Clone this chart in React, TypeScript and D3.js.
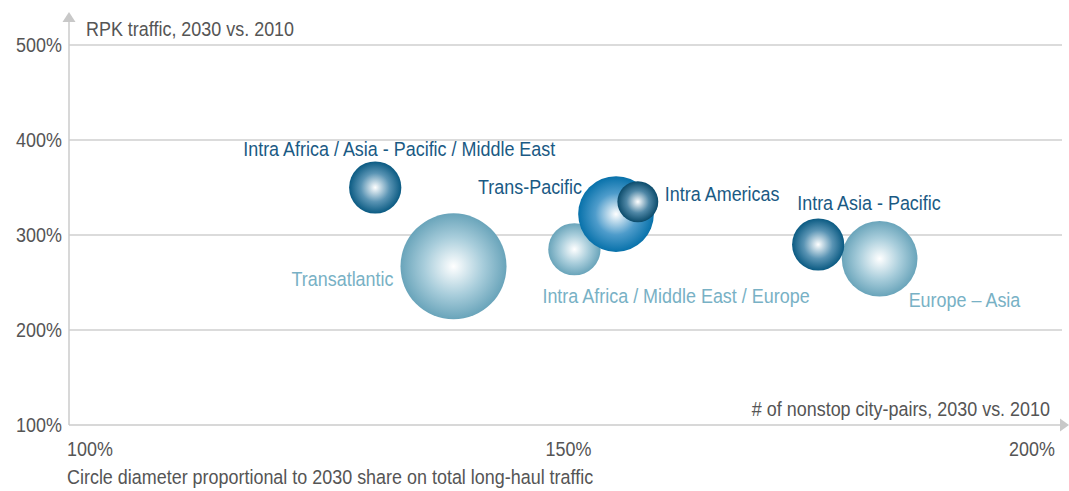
import * as d3 from "d3";

const W = 1069;
const H = 491;
const MARGIN = { top: 45, right: 0, bottom: 66, left: 69 };

// bubble data: x = nonstop city-pairs growth, y = RPK growth, share = 2030 share of long-haul traffic
const regions = [
  "Transatlantic",
  "Intra Africa / Middle East / Europe",
  "Europe – Asia",
  "Intra Africa / Asia - Pacific / Middle East",
  "Intra Asia - Pacific",
  "Trans-Pacific",
  "Intra Americas",
];
const cityPairs = [138.8, 151.0, 181.8, 130.9, 175.6, 155.2, 157.4];
const rpkTraffic = [267, 285, 275, 350, 290, 322, 335];
const share = [14, 6.9, 10, 6.9, 6.9, 10, 5.4];
const tone = ["light", "light", "light", "dark", "dark", "bright", "deep"];

const yTicks = [100, 200, 300, 400, 500];
const xTicks = [100, 150, 200];

// label placement relative to bubble centre
const labelPos = [
  { dx: -60, dy: 20, anchor: "end" },
  { dx: -32, dy: 54, anchor: "start" },
  { dx: 29, dy: 48, anchor: "start" },
  { dx: 24, dy: -32, anchor: "middle" },
  { dx: -21, dy: -35, anchor: "start" },
  { dx: -34, dy: -20, anchor: "end" },
  { dx: 27, dy: -1, anchor: "start" },
];

const gradients: Record<string, [string, string, string]> = {
  light: ["#ffffff", "#a8cddb", "#69a4ba"],
  dark: ["#ffffff", "#5a94b4", "#0a5a82"],
  bright: ["#ffffff", "#4e9ccb", "#0771aa"],
  deep: ["#ffffff", "#4f87a6", "#0b4b6b"],
};
const labelColor: Record<string, string> = {
  light: "#78b1c5",
  dark: "#1a5a84",
  bright: "#1a5a84",
  deep: "#1a5a84",
};

const FONT = "'Liberation Sans', Arial, sans-serif";
const SX = 0.93;

// condensed text: regular sans squeezed horizontally
const CText = ({ x, y, anchor = "start", size = 19.3, fill = "#555", children }: any) => (
  <text
    transform={`translate(${x},${y}) scale(${SX},1)`}
    textAnchor={anchor}
    fontSize={size}
    fill={fill}
    fontFamily={FONT}
  >
    {children}
  </text>
);

export default function App() {
  const boundsW = W - MARGIN.left - MARGIN.right;
  const xScale = d3.scaleLinear().domain([100, 200]).range([0, boundsW - 9]);
  const yScale = d3.scaleLinear().domain([100, 500]).range([380, 0]);
  const rScale = d3.scaleLinear().domain([0, 14]).range([0, 53]);

  const bubbles = regions.map((name, i) => ({
    name,
    x: xScale(cityPairs[i]),
    y: yScale(rpkTraffic[i]),
    r: rScale(share[i]),
    tone: tone[i],
    label: labelPos[i],
  }));

  const y0 = yScale(100);
  const xEnd = boundsW - 9;

  return (
    <svg width={W} height={H} style={{ position: "absolute", left: 0, top: 0, background: "#fff" }}>
      <defs>
        {Object.entries(gradients).map(([k, c]) => (
          <radialGradient key={k} id={`grad-${k}`} cx="50%" cy="50%" r="50%">
            <stop offset="0%" stopColor={c[0]} />
            <stop offset="55%" stopColor={c[1]} />
            <stop offset="100%" stopColor={c[2]} />
          </radialGradient>
        ))}
      </defs>
      <g transform={`translate(${MARGIN.left},${MARGIN.top})`}>
        {yTicks.map((t) => (
          <g key={t}>
            {t > 100 && (
              <line x1={0} x2={xEnd + 2} y1={yScale(t)} y2={yScale(t)} stroke="#cfcfcf" strokeWidth={1.5} />
            )}
            <CText x={-7} y={yScale(t) + 7} anchor="end">
              {t}%
            </CText>
          </g>
        ))}
        {/* axes with arrows */}
        <line x1={0} x2={0} y1={y0} y2={-23} stroke="#cbcbcb" strokeWidth={1.5} />
        <path d={`M-6.5,-23 L0,-33 L6.5,-23 Z`} fill="#c8c8c8" />
        <line x1={0} x2={xEnd} y1={y0} y2={y0} stroke="#cbcbcb" strokeWidth={1.5} />
        <path d={`M${xEnd},${y0 - 6.5} L${xEnd + 9},${y0} L${xEnd},${y0 + 6.5} Z`} fill="#c8c8c8" />

        {xTicks.map((t, i) => (
          <CText
            key={t}
            x={xScale(t) + (i === xTicks.length - 1 ? -5 : i === 0 ? -2 : 4)}
            y={y0 + 31}
            anchor={i === 0 ? "start" : i === xTicks.length - 1 ? "end" : "middle"}
          >
            {t}%
          </CText>
        ))}

        <CText x={17} y={-9}>
          RPK traffic, 2030 vs. 2010
        </CText>
        <CText x={xEnd - 10} y={y0 - 9} anchor="end">
          # of nonstop city-pairs, 2030 vs. 2010
        </CText>

        {bubbles.map((b) => (
          <circle key={b.name} cx={b.x} cy={b.y} r={b.r} fill={`url(#grad-${b.tone})`} />
        ))}
        {bubbles.map((b) => (
          <CText
            key={b.name}
            x={b.x + b.label.dx}
            y={b.y + b.label.dy}
            anchor={b.label.anchor}
            fill={labelColor[b.tone]}
          >
            {b.name}
          </CText>
        ))}
      </g>
      <CText x={67} y={484}>
        Circle diameter proportional to 2030 share on total long-haul traffic
      </CText>
    </svg>
  );
}
